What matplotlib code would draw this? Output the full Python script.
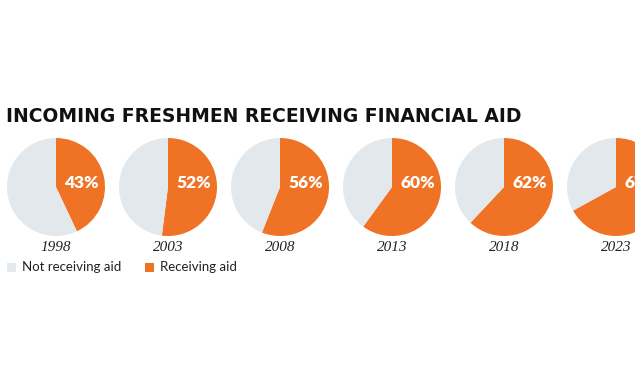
import matplotlib
matplotlib.use("Agg")
import matplotlib.pyplot as plt
from matplotlib.patches import Rectangle

# data
years = ["1998", "2003", "2008", "2013", "2018", "2023"]
receiving = [43, 52, 56, 60, 62, 67]
legend_labels = ["Not receiving aid", "Receiving aid"]
title = "INCOMING FRESHMEN RECEIVING FINANCIAL AID"

ORANGE = "#F07224"
GREY = "#E3E8EC"

W, H = 635, 390
fig = plt.figure(figsize=(W / 100, H / 100), dpi=100)
fig.patch.set_facecolor("white")

# title
fig.text(6 / W, 1 - 117 / H, title, fontsize=13.5, fontweight="bold",
         family=["DejaVu Sans"], color="#111111", va="center", ha="left")

r = 49
cy = 187
for i, (yr, val) in enumerate(zip(years, receiving)):
    cx = 56 + 112 * i
    ax = fig.add_axes([(cx - r) / W, (H - cy - r) / H, 2 * r / W, 2 * r / H])
    ax.pie([val, 100 - val], colors=[ORANGE, GREY], startangle=90,
           counterclock=False, radius=1,
           wedgeprops=dict(linewidth=0))
    ax.set_xlim(-1, 1)
    ax.set_ylim(-1, 1)
    ax.set_aspect("equal")
    ax.axis("off")
    ax.text(0.52, 0.08, f"{val}%", color="white", fontsize=12.5, fontweight="heavy",
            family=["Lato", "DejaVu Sans"], ha="center", va="center")
    # year label
    fig.text(cx / W, 1 - 248 / H, yr, fontsize=11, style="italic",
             family=["Liberation Serif", "DejaVu Serif"], ha="center", va="center",
             color="#222222")

# legend
lx = [7, 145]
for x, lab, col in zip(lx, legend_labels, [GREY, ORANGE]):
    fig.patches.append(Rectangle((x / W, 1 - 272 / H), 9 / W, 9 / H,
                                 transform=fig.transFigure, facecolor=col,
                                 edgecolor="none", figure=fig))
    fig.text((x + 15) / W, 1 - 267 / H, lab, fontsize=9.5,
             family=["Lato", "DejaVu Sans"], ha="left", va="center", color="#222222")

fig.savefig("out.png", dpi=100)
